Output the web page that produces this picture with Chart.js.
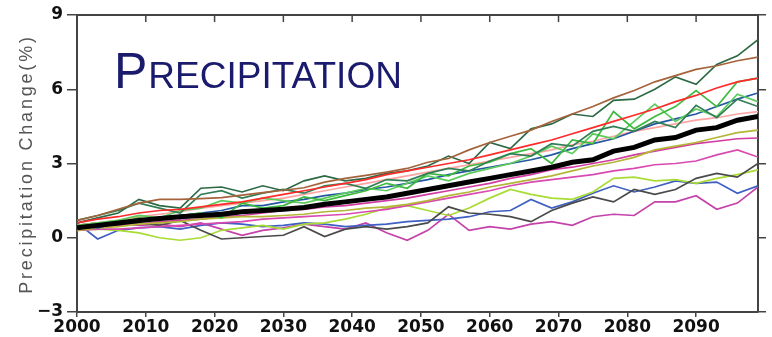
<!DOCTYPE html>
<html>
<head>
<meta charset="utf-8">
<script src="https://cdn.jsdelivr.net/npm/chart.js@4.4.1/dist/chart.umd.min.js"></script>
<style>
  html, body { margin: 0; padding: 0; background: #fff; }
  #wrap { width: 772px; height: 337px; }
</style>
</head>
<body>
<div id="wrap"><canvas id="precipChart"></canvas></div>
<script>
const FONT = '"Liberation Sans", Arial, Helvetica, sans-serif';
const TICK_FONT = '"DejaVu Sans", Verdana, sans-serif';

// model years (every 3rd year)
const years = [2000, 2003, 2006, 2009, 2012, 2015, 2018, 2021, 2024, 2027, 2030, 2033,
  2036, 2039, 2042, 2045, 2048, 2051, 2054, 2057, 2060, 2063, 2066, 2069,
  2072, 2075, 2078, 2081, 2084, 2087, 2090, 2093, 2096, 2099];

const yTicks = [-3, 0, 3, 6, 9];

// ensemble mean
const ensembleMean = [0.4, 0.5, 0.6, 0.7, 0.78, 0.85, 0.9, 0.95, 1.05, 1.1, 1.15, 1.22, 1.35, 1.45, 1.55, 1.65, 1.8, 1.95,
  2.1, 2.25, 2.4, 2.55, 2.7, 2.85, 3.05, 3.15, 3.5, 3.65, 3.95, 4.05, 4.35, 4.45, 4.75, 4.9];

// individual models
const brownRun = [0.7, 0.9, 1.15, 1.4, 1.55, 1.55, 1.58, 1.62, 1.72, 1.82, 1.92, 2.02, 2.25, 2.4, 2.52, 2.65, 2.8, 3.05,
  3.2, 3.55, 3.85, 4.1, 4.35, 4.7, 5.0, 5.3, 5.65, 5.95, 6.3, 6.55, 6.8, 6.95, 7.15, 7.3];
const redRun = [0.6, 0.75, 0.85, 1.0, 1.1, 1.15, 1.25, 1.35, 1.45, 1.6, 1.75, 1.9, 2.05, 2.2, 2.35, 2.55, 2.7, 2.85,
  3.0, 3.15, 3.35, 3.55, 3.75, 3.95, 4.2, 4.45, 4.7, 4.95, 5.2, 5.5, 5.75, 6.05, 6.3, 6.45];
const darkGreenRunA = [0.6, 0.8, 1.0, 1.55, 1.3, 1.2, 2.0, 2.05, 1.85, 2.1, 1.9, 2.3, 2.5, 2.3, 2.4, 2.6, 2.7, 2.9,
  3.3, 3.0, 3.85, 3.6, 4.4, 4.6, 5.0, 4.9, 5.55, 5.6, 6.0, 6.5, 6.2, 7.0, 7.35, 8.0];
const darkGreenRunB = [0.7, 0.9, 1.1, 1.4, 1.2, 1.0, 1.75, 1.9, 1.6, 1.8, 1.95, 1.8, 2.1, 2.2, 2.0, 2.35, 2.3, 2.6,
  2.8, 2.7, 3.1, 3.4, 3.3, 3.8, 3.7, 4.3, 4.5, 4.3, 4.7, 4.45, 5.35, 4.85, 5.6, 5.3];
const greenRunC = [0.4, 0.5, 0.6, 0.8, 0.7, 0.9, 1.0, 0.8, 1.4, 1.2, 1.3, 1.65, 1.5, 1.7, 1.9, 2.2, 2.0, 2.6,
  2.5, 2.9, 3.05, 3.4, 3.6, 3.0, 3.95, 3.8, 5.1, 4.4, 4.9, 5.3, 5.95, 5.3, 6.3, 6.45];
const greenRunD = [0.5, 0.6, 0.7, 0.9, 0.8, 1.1, 1.2, 1.5, 1.4, 1.6, 1.5, 1.4, 1.6, 1.8, 2.0, 1.9, 2.2, 2.5,
  2.3, 2.6, 2.8, 3.0, 3.3, 3.7, 3.4, 4.2, 4.0, 4.7, 5.4, 4.7, 5.2, 4.9, 5.8, 5.5];
const navyRun = [0.5, 0.4, 0.6, 0.7, 0.8, 0.9, 1.0, 1.1, 1.3, 1.3, 1.45, 1.55, 1.7, 1.8, 1.95, 2.05, 2.2, 2.35,
  2.55, 2.7, 2.85, 3.0, 3.15, 3.35, 3.6, 3.8, 4.0, 4.3, 4.6, 4.8, 5.0, 5.3, 5.6, 5.85];
const pinkRun = [0.5, 0.6, 0.7, 0.85, 0.95, 1.05, 1.2, 1.3, 1.4, 1.5, 1.6, 1.75, 1.9, 2.05, 2.2, 2.35, 2.5, 2.65,
  2.8, 2.95, 3.1, 3.25, 3.4, 3.55, 3.75, 3.9, 4.1, 4.3, 4.45, 4.6, 4.75, 4.85, 5.0, 5.1];
const oliveRun = [0.3, 0.4, 0.45, 0.55, 0.6, 0.65, 0.75, 0.8, 0.85, 0.85, 0.9, 0.95, 1.05, 1.1, 1.2, 1.25, 1.35, 1.5,
  1.7, 1.85, 2.05, 2.2, 2.35, 2.5, 2.7, 2.9, 3.05, 3.25, 3.55, 3.7, 3.85, 4.05, 4.25, 4.35];
const magentaRunA = [0.4, 0.45, 0.5, 0.55, 0.65, 0.7, 0.75, 0.85, 0.9, 1.0, 1.1, 1.15, 1.25, 1.3, 1.4, 1.5, 1.6, 1.75,
  1.9, 2.05, 2.2, 2.4, 2.55, 2.75, 2.85, 3.0, 3.15, 3.35, 3.5, 3.65, 3.8, 3.9, 4.0, 4.03];
const magentaRunB = [0.3, 0.35, 0.35, 0.4, 0.45, 0.5, 0.55, 0.6, 0.65, 0.75, 0.8, 0.85, 0.9, 0.95, 1.05, 1.15, 1.3, 1.45,
  1.6, 1.75, 1.9, 2.1, 2.25, 2.35, 2.45, 2.55, 2.7, 2.8, 2.95, 3.0, 3.1, 3.35, 3.55, 3.26];
const greyRun = [0.5, 0.6, 0.5, 0.6, 0.5, 0.7, 0.3, -0.05, 0.0, 0.05, 0.1, 0.45, 0.05, 0.35, 0.45, 0.35, 0.45, 0.6,
  1.25, 1.0, 0.95, 0.85, 0.65, 1.1, 1.4, 1.65, 1.45, 1.95, 1.75, 1.95, 2.4, 2.6, 2.45, 3.0];
const limeRun = [0.3, 0.35, 0.3, 0.2, 0.0, -0.1, 0.0, 0.3, 0.4, 0.5, 0.35, 0.55, 0.6, 0.75, 0.95, 1.2, 1.3, 1.1,
  0.9, 1.2, 1.6, 1.95, 1.75, 1.6, 1.55, 1.85, 2.4, 2.45, 2.3, 2.35, 2.2, 2.4, 2.55, 2.74];
const blueRun = [0.6, -0.05, 0.3, 0.4, 0.45, 0.35, 0.5, 0.6, 0.55, 0.45, 0.5, 0.6, 0.55, 0.45, 0.5, 0.55, 0.65, 0.7,
  0.75, 0.85, 1.05, 1.1, 1.55, 1.2, 1.45, 1.8, 2.1, 1.85, 2.05, 2.3, 2.2, 2.25, 1.8, 2.1];
const magentaRunC = [0.5, 0.55, 0.6, 0.5, 0.55, 0.45, 0.6, 0.35, 0.1, 0.3, 0.4, 0.55, 0.45, 0.35, 0.6, 0.2, -0.1, 0.3,
  0.95, 0.3, 0.45, 0.35, 0.55, 0.65, 0.5, 0.85, 0.95, 0.9, 1.45, 1.45, 1.7, 1.15, 1.4, 2.05];

const runs = [
  [brownRun, '#a5633c'],
  [redRun, '#ff2b2b'],
  [darkGreenRunA, '#2c6a45'],
  [darkGreenRunB, '#337f55'],
  [greenRunC, '#3dba3d'],
  [greenRunD, '#5ccc5c'],
  [navyRun, '#2356a3'],
  [pinkRun, '#ffa3a3'],
  [oliveRun, '#b4b636'],
  [magentaRunA, '#d23ca2'],
  [magentaRunB, '#d84ab2'],
  [greyRun, '#4a4a4a'],
  [limeRun, '#a8dc35'],
  [blueRun, '#3f5fc2'],
  [magentaRunC, '#c442aa']
];

function toPoints(vals) {
  return vals.map((v, i) => ({ x: years[i], y: v }));
}

const datasets = [{
  label: 'Ensemble mean',
  data: toPoints(ensembleMean),
  borderColor: '#000',
  borderWidth: 5,
  pointRadius: 0,
  tension: 0
}];
runs.forEach(([vals, color], i) => {
  datasets.push({
    label: 'Model ' + (i + 1),
    data: toPoints(vals),
    borderColor: color,
    borderWidth: 1.7,
    pointRadius: 0,
    tension: 0
  });
});

// title, y axis label and inner top ticks
const decorations = {
  id: 'decorations',
  afterDraw(chart) {
    const ctx = chart.ctx;
    const area = chart.chartArea;
    const x = chart.scales.x;

    ctx.save();
    ctx.strokeStyle = '#444';
    ctx.lineWidth = 1.5;
    x.ticks.forEach(t => {
      const px = x.getPixelForValue(t.value);
      ctx.beginPath();
      ctx.moveTo(px, area.top);
      ctx.lineTo(px, area.top + 7);
      ctx.stroke();
    });

    ctx.fillStyle = '#1b1b6e';
    ctx.textBaseline = 'alphabetic';
    ctx.textAlign = 'left';
    ctx.font = '50px ' + FONT;
    ctx.fillText('P', 114, 88);
    const w = ctx.measureText('P').width;
    ctx.font = '37px ' + FONT;
    ctx.fillText('RECIPITATION', 114 + w + 1, 88);

    ctx.translate(27, 164);
    ctx.rotate(-Math.PI / 2);
    ctx.fillStyle = '#555';
    ctx.font = '18px ' + FONT;
    ctx.letterSpacing = '2.8px';
    ctx.textAlign = 'center';
    ctx.textBaseline = 'middle';
    ctx.fillText('Precipitation Change(%)', 0, 0);
    ctx.restore();
  }
};

const tickFont = { family: TICK_FONT, size: 17, weight: 'bold' };

new Chart(document.getElementById('precipChart').getContext('2d'), {
  type: 'line',
  data: { datasets: datasets },
  options: {
    responsive: true,
    maintainAspectRatio: false,
    animation: false,
    layout: { padding: 0 },
    plugins: {
      legend: { display: false },
      tooltip: { enabled: false }
    },
    scales: {
      x: {
        type: 'linear',
        position: 'bottom',
        min: 2000,
        max: 2099,
        afterFit: s => { s.height = 25; },
        ticks: {
          stepSize: 10,
          includeBounds: false,
          maxRotation: 0,
          autoSkip: false,
          padding: 0,
          color: '#111',
          font: tickFont,
          callback: v => String(v)
        },
        grid: { drawOnChartArea: false, tickLength: 5, color: '#444', lineWidth: 1.5 },
        border: { color: '#444', width: 2 }
      },
      xTop: {
        type: 'linear',
        position: 'top',
        min: 2000,
        max: 2099,
        afterFit: s => { s.height = 15; },
        ticks: { display: false },
        grid: { drawOnChartArea: false, drawTicks: false },
        border: { color: '#444', width: 2 }
      },
      y: {
        type: 'linear',
        position: 'left',
        min: -3,
        max: 9,
        afterFit: s => { s.width = 77; },
        afterBuildTicks: s => { s.ticks = yTicks.map(v => ({ value: v })); },
        ticks: {
          padding: 4,
          color: '#111',
          font: tickFont,
          callback: v => String(v).replace('-', '\u2212')
        },
        grid: { drawOnChartArea: false, tickLength: 10, color: '#444', lineWidth: 1.5 },
        border: { color: '#444', width: 2 }
      },
      yRight: {
        type: 'linear',
        position: 'right',
        min: -3,
        max: 9,
        afterFit: s => { s.width = 14; },
        afterBuildTicks: s => { s.ticks = yTicks.map(v => ({ value: v })); },
        ticks: { display: false },
        grid: { drawOnChartArea: false, tickLength: 8, color: '#444', lineWidth: 1.5 },
        border: { color: '#444', width: 2 }
      }
    }
  },
  plugins: [decorations]
});
</script>
</body>
</html>
